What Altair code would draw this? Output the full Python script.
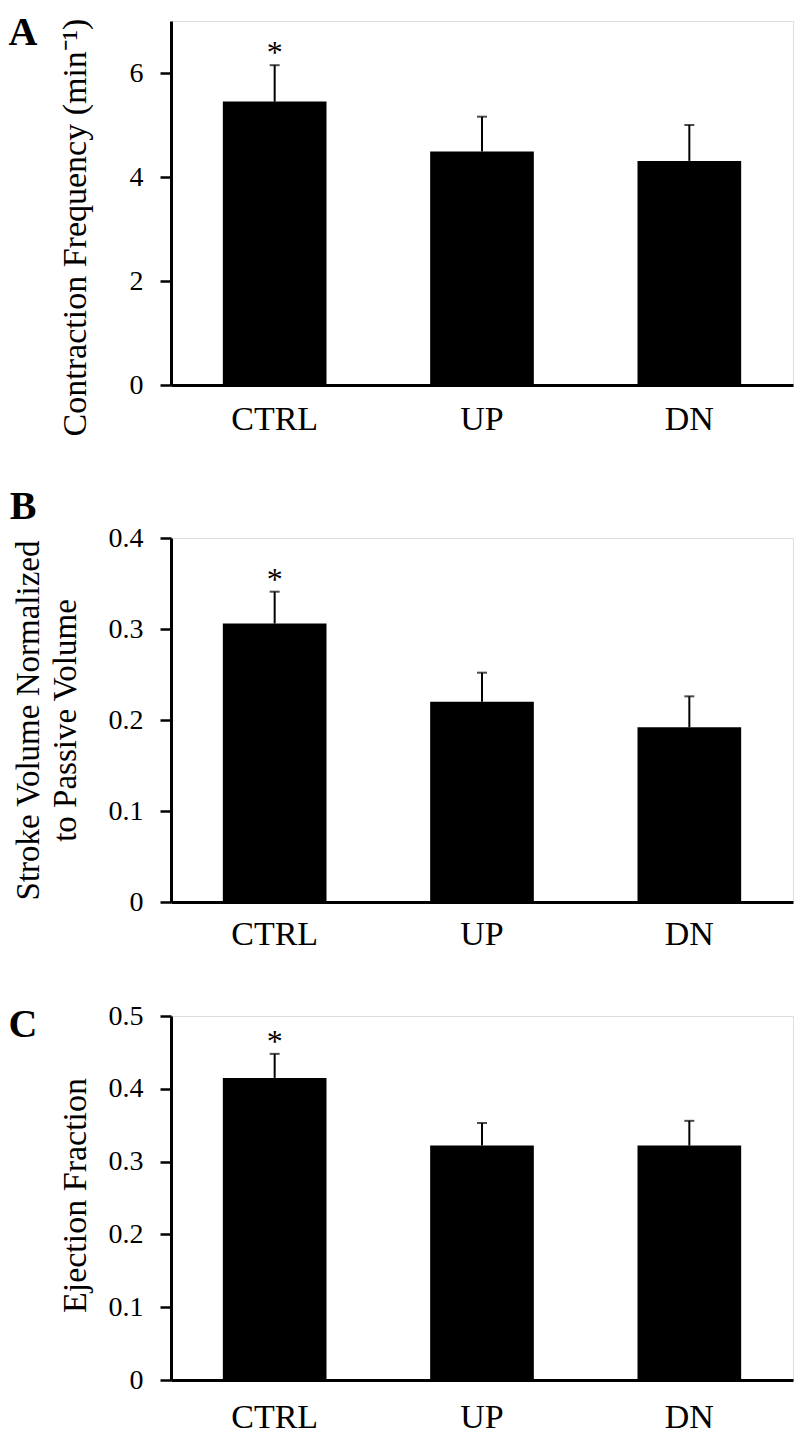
import altair as alt
import pandas as pd

groups = ["CTRL", "UP", "DN"]
sig = ["*", "", ""]

freq_mean = [5.45, 4.49, 4.31]
freq_err = [0.70, 0.67, 0.69]

sv_mean = [0.306, 0.220, 0.192]
sv_err = [0.035, 0.032, 0.034]

ef_mean = [0.415, 0.322, 0.322]
ef_err = [0.033, 0.031, 0.034]

FONT = "Liberation Serif"
W, H = 622, 364


def panel(mean, err, ymax, yticks, fmt, title, title_size, title_x, title_y,
          letter, letter_y, lab_pad):
    df = pd.DataFrame({"group": groups, "mean": mean, "err": err, "sig": sig})
    base = alt.Chart(df).transform_calculate(upper="datum.mean + datum.err")
    x = alt.X(
        "group:N",
        sort=groups,
        scale=alt.Scale(paddingInner=0.5, paddingOuter=0.25),
        axis=alt.Axis(
            title=None, ticks=False, labelAngle=0, labelFontSize=34, labelFont=FONT,
            labelColor="black", labelPadding=lab_pad, domainColor="black", domainWidth=3,
        ),
    )
    yscale = alt.Scale(domain=[0, ymax], nice=False, zero=True)
    y = alt.Y(
        "mean:Q",
        scale=yscale,
        axis=alt.Axis(
            title=title, values=yticks, format=fmt, grid=False,
            labelFontSize=28, labelFont=FONT, labelColor="black", labelPadding=17,
            tickSize=11, tickWidth=2.5, tickColor="black",
            domainColor="black", domainWidth=3,
            titleFont=FONT, titleFontSize=title_size, titleFontWeight="normal",
            titleColor="black", titleX=title_x, titleY=title_y,
            titleBaseline="alphabetic", titleAngle=270, titleLineHeight=37,
        ),
    )
    bars = base.mark_bar(color="black").encode(x=x, y=y)
    stem = base.mark_rule(color="black", strokeWidth=2).encode(
        x=alt.X("group:N", sort=groups), y=alt.Y("mean:Q", scale=yscale), y2="upper:Q"
    )
    cap = base.mark_tick(color="black", size=10, thickness=2).encode(
        x=alt.X("group:N", sort=groups), y=alt.Y("upper:Q", scale=yscale)
    )
    star = base.transform_filter("datum.sig != ''").mark_text(
        font=FONT, fontSize=32, color="black", baseline="alphabetic", dy=-2
    ).encode(x=alt.X("group:N", sort=groups), y=alt.Y("upper:Q", scale=yscale), text="sig:N")
    lab = alt.Chart(pd.DataFrame({"letter": [letter]})).mark_text(
        font=FONT, fontSize=40, fontWeight="bold", color="black",
        baseline="alphabetic", align="center",
    ).encode(text="letter:N", x=alt.value(-148), y=alt.value(letter_y))
    return alt.layer(bars, stem, cap, star, lab).properties(width=W, height=H)


pA = panel(freq_mean, freq_err, 7, [0, 2, 4, 6], "d",
           "Contraction Frequency (min⁻¹)", 34, -86, 206, "A", 24, 17)
pB = panel(sv_mean, sv_err, 0.4, [0, 0.1, 0.2, 0.3, 0.4], ".1~f",
           ["Stroke Volume Normalized", "to Passive Volume"], 33, -133, 182, "B", -19, 15)
pC = panel(ef_mean, ef_err, 0.5, [0, 0.1, 0.2, 0.3, 0.4, 0.5], ".1~f",
           "Ejection Fraction", 34, -86, 179, "C", 21, 20)

chart = alt.vconcat(pA, pB, pC, spacing=49).properties(
    padding={"top": 4, "left": 0, "right": 0, "bottom": 0}
).configure_view(stroke=None).configure(background="white")

chart.save("out.html", embed_options={"renderer": "svg", "actions": False})
